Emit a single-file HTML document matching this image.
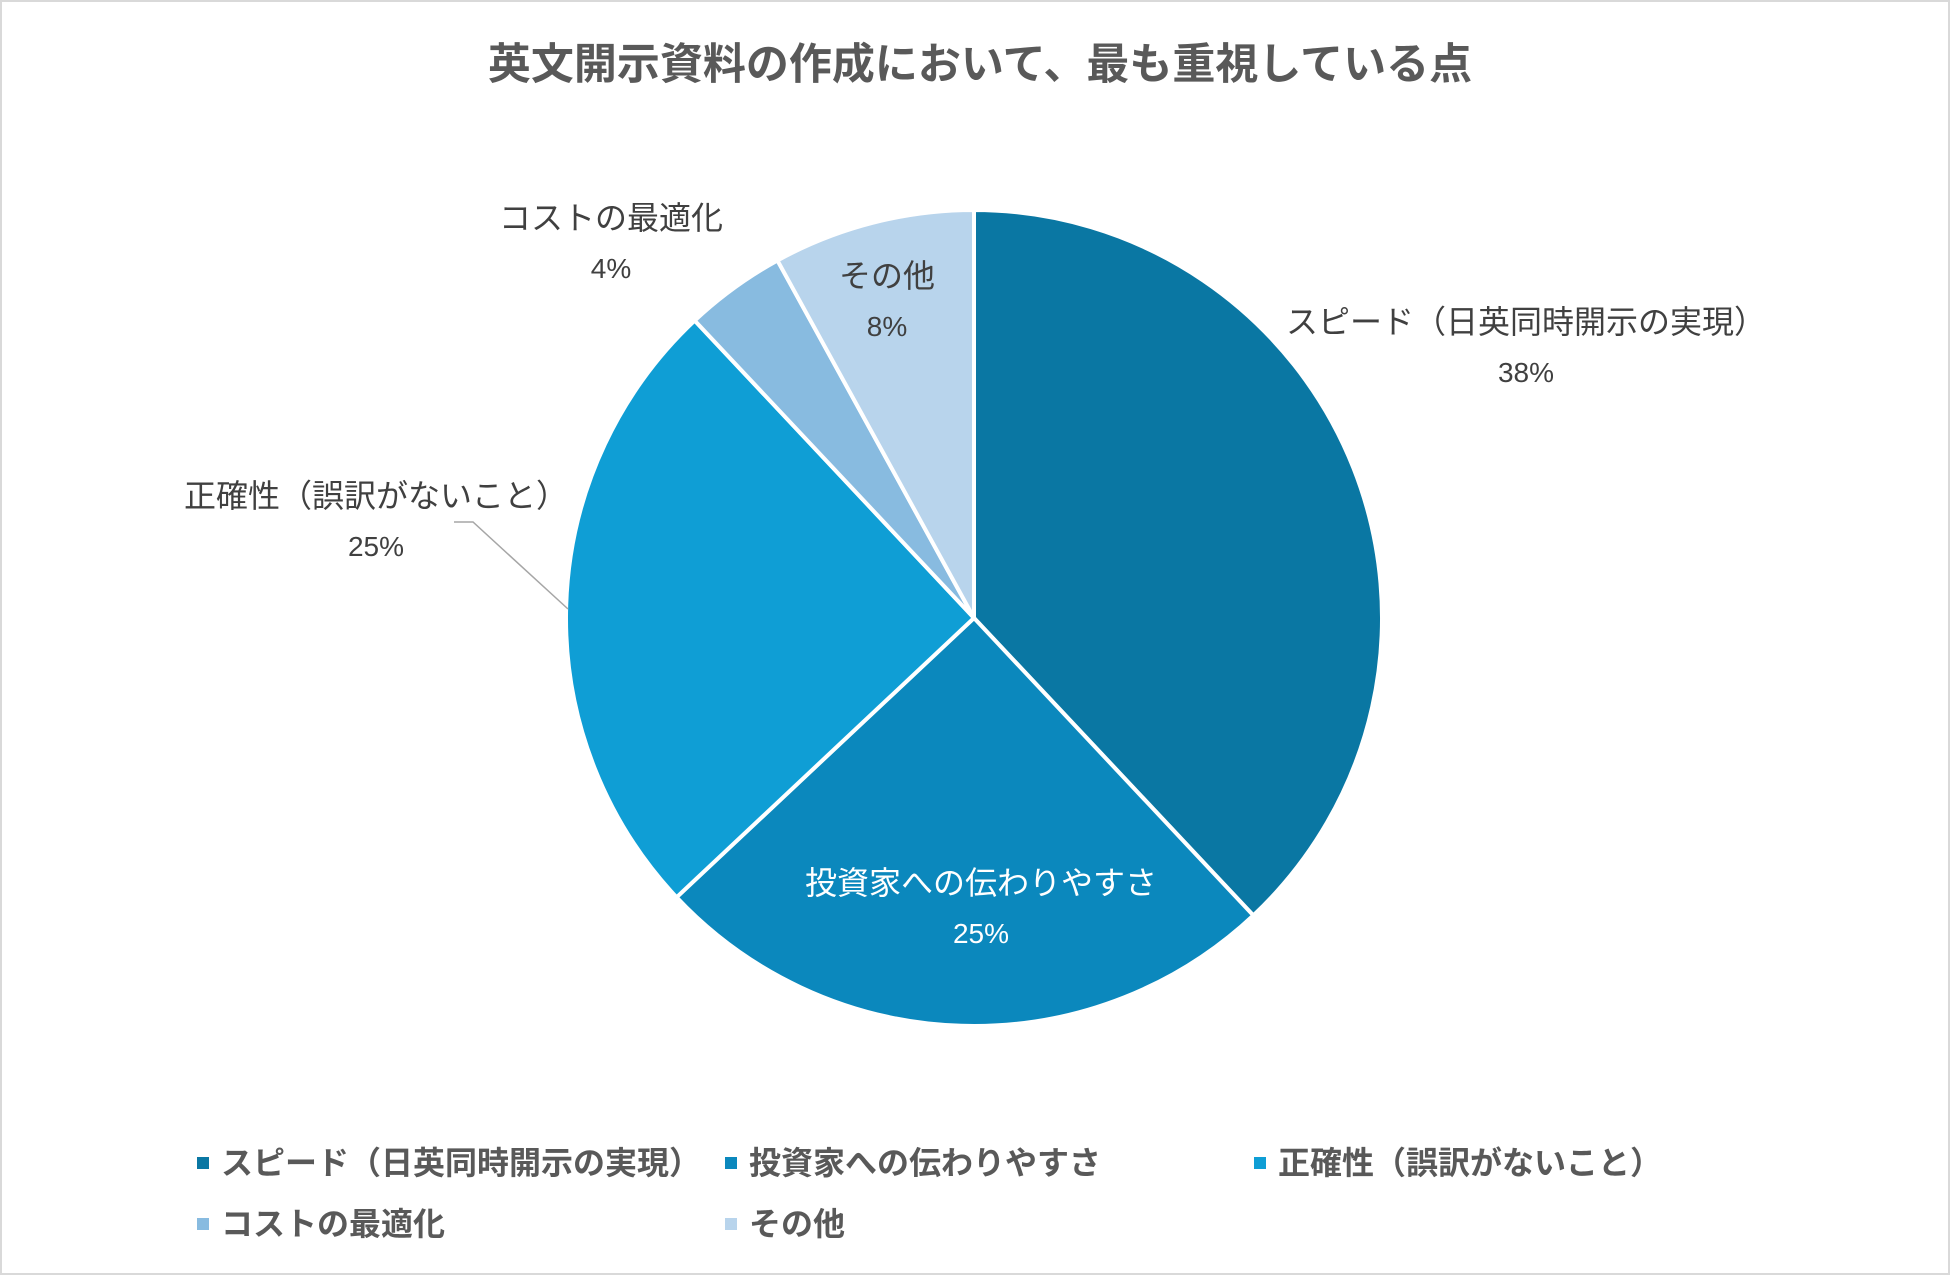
<!DOCTYPE html>
<html><head><meta charset="utf-8"><style>
body{margin:0;background:#fff;}
svg{display:block;font-family:"Liberation Sans","Noto Sans CJK JP",sans-serif;}
</style></head><body>
<svg id="chart" width="1950" height="1275" viewBox="0 0 1950 1275">
<rect x="1" y="1" width="1948" height="1273" fill="#fff" stroke="#d9d9d9" stroke-width="2"/>
<text x="980" y="79" text-anchor="middle" font-size="43" font-weight="bold" fill="#595959">英文開示資料の作成において、最も重視している点</text>
<g id="slices"></g>
<g id="labels"></g>
<polyline points="454,522 473,522 568,609" fill="none" stroke="#a6a6a6" stroke-width="1.5"/>
<g id="legend"></g>
</svg>
<script>
const categories=["スピード（日英同時開示の実現）","投資家への伝わりやすさ","正確性（誤訳がないこと）","コストの最適化","その他"];
const values=[38,25,25,4,8];
const pctLabels=["38%","25%","25%","4%","8%"];
const colors=["#0a77a3","#0b88bd","#0f9ed5","#88bbe0","#b8d4ec"];
const labelPos=[[1526,322],[981,883],[376,496],[611,218],[887,276]];
const legendPos=[[203,1163],[731,1163],[1260,1163],[203,1224],[731,1224]];
const NS="http://www.w3.org/2000/svg";
const cx=974,cy=618,r=408;
const total=values.reduce((a,b)=>a+b,0);
const sg=document.getElementById('slices'),lg=document.getElementById('labels'),leg=document.getElementById('legend');
let a=-Math.PI/2;
values.forEach((v,i)=>{
 const a2=a+v/total*2*Math.PI;
 const x1=cx+r*Math.cos(a),y1=cy+r*Math.sin(a),x2=cx+r*Math.cos(a2),y2=cy+r*Math.sin(a2);
 const p=document.createElementNS(NS,'path');
 p.setAttribute('d',`M${cx},${cy}L${x1},${y1}A${r},${r} 0 ${a2-a>Math.PI?1:0} 1 ${x2},${y2}Z`);
 p.setAttribute('fill',colors[i]);p.setAttribute('stroke','#fff');p.setAttribute('stroke-width','4');
 
 
 sg.appendChild(p);
 a=a2;
 const inside=i===1;
 const t=document.createElementNS(NS,'text');
 t.setAttribute('x',labelPos[i][0]);t.setAttribute('y',labelPos[i][1]+11);
 t.setAttribute('text-anchor','middle');t.setAttribute('font-size','32');
 t.setAttribute('fill',inside?'#ffffff':'#404040');
 
 
 t.innerHTML=`<tspan x="${labelPos[i][0]}">${categories[i]}</tspan><tspan x="${labelPos[i][0]}" dy="49" font-size="28">${pctLabels[i]}</tspan>`;
 lg.appendChild(t);
 const g=document.createElementNS(NS,'g');
 
 
 const m=document.createElementNS(NS,'rect');
 m.setAttribute('x',legendPos[i][0]-6);m.setAttribute('y',legendPos[i][1]-6);m.setAttribute('width',12);m.setAttribute('height',12);m.setAttribute('fill',colors[i]);
 g.appendChild(m);
 const lt=document.createElementNS(NS,'text');
 lt.setAttribute('x',legendPos[i][0]+18);lt.setAttribute('y',legendPos[i][1]+11);
 lt.setAttribute('font-size','32');lt.setAttribute('font-weight','bold');lt.setAttribute('fill','#595959');
 lt.textContent=categories[i];
 g.appendChild(lt);
 leg.appendChild(g);
});
</script>
</body></html>
